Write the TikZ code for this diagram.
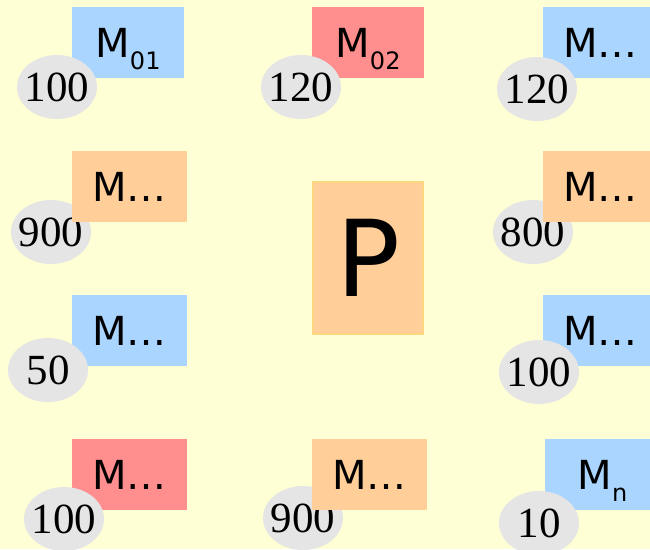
\documentclass[tikz,border=0pt]{standalone}
\usepackage{fontspec}
\usetikzlibrary{shapes.geometric}
\newfontfamily\mfont{DejaVu Sans}
\newfontfamily\nfont{Liberation Serif}
\definecolor{bgc}{RGB}{255,255,213}
\definecolor{bluec}{RGB}{170,213,255}
\definecolor{redc}{RGB}{255,143,143}
\definecolor{orc}{RGB}{255,206,153}
\definecolor{grc}{RGB}{229,229,229}
\definecolor{pbord}{RGB}{255,214,128}
\newcommand{\msub}[1]{\raisebox{-12pt}{\fontsize{24}{24}\selectfont #1}}
\tikzset{
  mbox/.style={rectangle, fill=#1, minimum width=115pt, minimum height=71pt,
    inner sep=0pt, text height=29pt, text depth=0pt,
    font=\mfont\fontsize{40}{40}\selectfont},
  nell/.style={ellipse, fill=grc, minimum width=80pt, minimum height=64pt,
    inner sep=0pt, text height=29pt, text depth=0pt,
    font=\nfont\fontsize{43}{43}\selectfont},
  pbox/.style={rectangle, fill=orc, draw=pbord, line width=1.5pt,
    minimum width=110pt, minimum height=152pt, inner sep=0pt,
    text height=77pt, text depth=0pt,
    font=\mfont\fontsize{106}{106}\selectfont}
}
\begin{document}
\begin{tikzpicture}[x=1pt,y=-1pt]
\fill[bgc] (0,0) rectangle (650,549);
\useasboundingbox (0,0) rectangle (650,549);
% row 1
\node[mbox=bluec, minimum width=112pt] (b1) at (128,42.5) {M\msub{01}};
\node[nell] (e1) at (57,87) {\makebox[0pt]{100}};
\node[mbox=redc, minimum width=112pt] (b2) at (368,42.5) {M\msub{02}};
\node[nell] (e2) at (301,87) {\makebox[0pt]{120}};
\node[mbox=bluec] (b3) at (600.5,42.5) {M\ldots};
\node[nell] (e3) at (537,89) {\makebox[0pt]{120}};
% row 2
\node[nell] (e4) at (51,232) {\makebox[0pt]{900}};
\node[mbox=orc] (b4) at (129.5,186.5) {M\ldots};
\node[nell] (e5) at (533,232) {\makebox[0pt]{800}};
\node[mbox=orc] (b5) at (600.5,186.5) {M\ldots};
% P
\node[pbox] (p) at (368,258) {P};
% row 3
\node[mbox=bluec] (b6) at (129.5,330.5) {M\ldots};
\node[nell] (e6) at (48,370) {\makebox[0pt]{50}};
\node[mbox=bluec] (b7) at (600.5,330.5) {M\ldots};
\node[nell] (e7) at (539,372) {\makebox[0pt]{100}};
% row 4
\node[mbox=redc] (b8) at (129.5,474.5) {M\ldots};
\node[nell] (e8) at (64,519) {\makebox[0pt]{100}};
\node[nell] (e9) at (303,518) {\makebox[0pt]{900}};
\node[mbox=orc] (b9) at (369.5,474.5) {M\ldots};
\node[mbox=bluec] (b10) at (602.5,474.5) {M\msub{n}};
\node[nell] (e10) at (539,523) {\makebox[0pt]{10}};
\end{tikzpicture}
\end{document}
